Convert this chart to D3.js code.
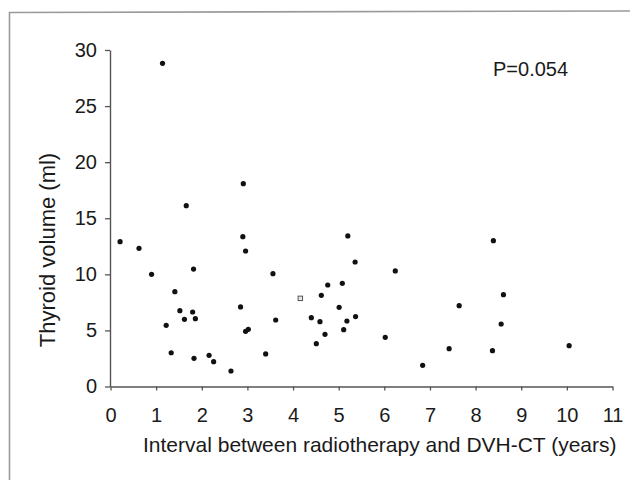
<!DOCTYPE html>
<html>
<head>
<meta charset="utf-8">
<script src="https://cdn.jsdelivr.net/npm/d3@7"></script>
<style>
  html, body { margin: 0; padding: 0; background: #fff; }
  svg { display: block; }
  text { font-family: "Liberation Sans", Arial, sans-serif; fill: #1a1a1a; }
</style>
</head>
<body>
<svg id="chart" width="630" height="480"></svg>
<script>
// Data
const intervalYears = [0.21,0.625,0.90,1.14,1.22,1.33,1.41,1.52,1.62,1.66,1.80,1.82,1.83,1.86,2.16,2.26,2.64,2.85,2.90,2.91,2.96,2.96,3.02,3.40,3.56,3.62,4.40,4.51,4.59,4.62,4.70,4.76,5.01,5.08,5.11,5.18,5.20,5.36,5.37,6.02,6.24,6.84,7.42,7.64,8.37,8.39,8.56,8.61,10.05];
const thyroidVolume = [12.91,12.32,10.0,28.81,5.45,3.01,8.45,6.76,5.99,16.12,6.64,10.47,2.51,6.05,2.78,2.21,1.38,7.09,13.36,18.08,12.08,4.92,5.10,2.90,10.06,5.93,6.14,3.82,5.78,8.13,4.65,9.05,7.06,9.20,5.07,5.84,13.42,11.10,6.23,4.38,10.30,1.89,3.37,7.21,3.19,13.0,5.57,8.19,3.64];
const openYears = [4.16];
const openVolume = [7.86];
const xTicks = [0,1,2,3,4,5,6,7,8,9,10,11];
const yTicks = [0,5,10,15,20,25,30];
const xTitle = "Interval between radiotherapy and DVH-CT (years)";
const yTitle = "Thyroid volume (ml)";
const pLabel = "P=0.054";

const svg = d3.select("#chart");

// outer frame
svg.append("path")
  .attr("d", "M9.5,482 L9.5,12.5 L632,11")
  .attr("fill", "none")
  .attr("stroke", "#9a9a9a")
  .attr("stroke-width", 1.6);

const x = d3.scaleLinear().domain([0, 11]).range([110.5, 612.5]);
const y = d3.scaleLinear().domain([0, 30]).range([386.5, 50]);

const yAxis = svg.append("g")
  .attr("transform", "translate(110,0)")
  .call(d3.axisLeft(y).tickValues(yTicks).tickSize(5).tickSizeOuter(0).tickPadding(8));
const xAxis = svg.append("g")
  .attr("transform", "translate(0,386.5)")
  .call(d3.axisBottom(x).tickValues(xTicks).tickSize(4).tickSizeOuter(0).tickPadding(17));

[yAxis, xAxis].forEach(g => {
  g.select(".domain").attr("stroke", "#555").attr("stroke-width", 1.4);
  g.selectAll(".tick line").attr("stroke", "#555").attr("stroke-width", 1.3);
  g.selectAll(".tick text")
    .style("font-family", '"Liberation Sans", Arial, sans-serif')
    .style("font-size", "20px")
    .attr("fill", "#1a1a1a");
});

// points
svg.append("g").selectAll("circle")
  .data(d3.range(intervalYears.length))
  .join("circle")
  .attr("cx", i => x(intervalYears[i]))
  .attr("cy", i => y(thyroidVolume[i]))
  .attr("r", 2.6)
  .attr("fill", "#111");

svg.append("g").selectAll("rect")
  .data(d3.range(openYears.length))
  .join("rect")
  .attr("x", i => x(openYears[i]) - 2.2)
  .attr("y", i => y(openVolume[i]) - 2.2)
  .attr("width", 4.4)
  .attr("height", 4.4)
  .attr("fill", "#e8e8e8")
  .attr("stroke", "#555")
  .attr("stroke-width", 1);

// titles
svg.append("text")
  .attr("x", 143)
  .attr("y", 452)
  .style("font-size", "21px")
  .text(xTitle);

svg.append("text")
  .attr("transform", "translate(55,250) rotate(-90)")
  .attr("text-anchor", "middle")
  .style("font-size", "22px")
  .text(yTitle);

svg.append("text")
  .attr("x", 493)
  .attr("y", 76)
  .style("font-size", "20px")
  .text(pLabel);
</script>
</body>
</html>
